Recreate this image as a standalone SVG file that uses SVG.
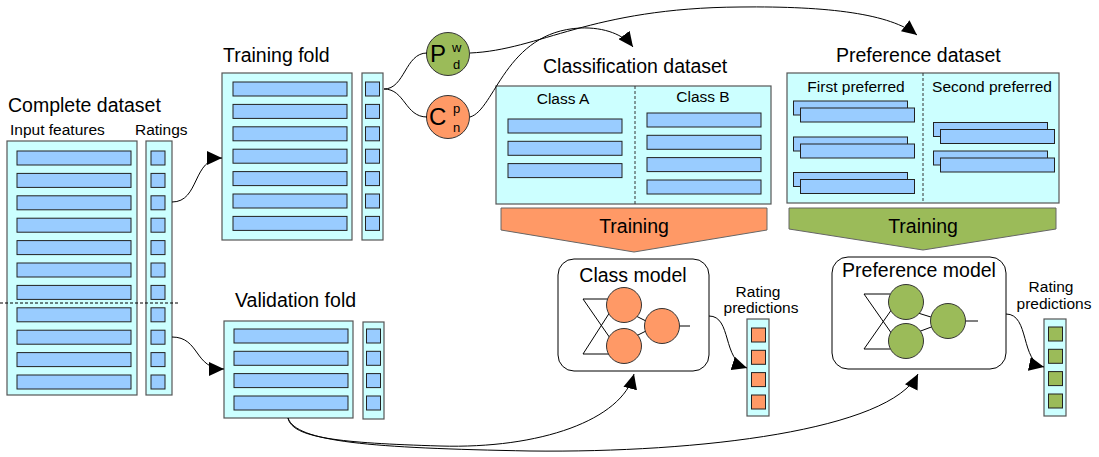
<svg xmlns="http://www.w3.org/2000/svg" width="1099" height="457" viewBox="0 0 1099 457">
<defs>
<style>
text{font-family:"Liberation Sans",Arial,sans-serif;fill:#000}
.h{font-size:19.5px}
.s{font-size:15.5px}
.box{fill:#ccffff;stroke:#555;stroke-width:1.2}
.row{fill:#99ccff;stroke:#222;stroke-width:1}
.sq{fill:#99ccff;stroke:#222;stroke-width:1}
.osq{fill:#ff9966;stroke:#222;stroke-width:1}
.gsq{fill:#9bbb59;stroke:#222;stroke-width:1}
.con{fill:none;stroke:#000;stroke-width:1}
.arr{fill:none;stroke:#000;stroke-width:1;marker-end:url(#ah)}
.orc{fill:#ff9966;stroke:#333;stroke-width:1}
.grc{fill:#9bbb59;stroke:#333;stroke-width:1}
.model{fill:#fff;stroke:#000;stroke-width:1}
.nl{fill:none;stroke:#000;stroke-width:1}
</style>
<marker id="ah" markerUnits="userSpaceOnUse" markerWidth="16" markerHeight="14" refX="15" refY="7" orient="auto">
<path d="M0,0 L15,7 L0,14 Z" fill="#000"/>
</marker>
<rect id="r114" width="114" height="14" class="row"/>
<rect id="sq" width="14" height="14" class="sq"/>
</defs>

<g id="complete-dataset">
<text class="h" x="8" y="112">Complete dataset</text>
<text class="s" x="10" y="135">Input features</text>
<text class="s" x="135" y="135">Ratings</text>
<rect class="box" x="7" y="141" width="130" height="254"/>
<rect class="box" x="146" y="141" width="26" height="254"/>
<use href="#r114" x="17" y="151"/><use href="#r114" x="17" y="173.4"/><use href="#r114" x="17" y="195.8"/><use href="#r114" x="17" y="218.2"/><use href="#r114" x="17" y="240.6"/><use href="#r114" x="17" y="263"/><use href="#r114" x="17" y="285.4"/><use href="#r114" x="17" y="307.8"/><use href="#r114" x="17" y="330.2"/><use href="#r114" x="17" y="352.6"/><use href="#r114" x="17" y="375"/>
<use href="#sq" x="151" y="151"/><use href="#sq" x="151" y="173.4"/><use href="#sq" x="151" y="195.8"/><use href="#sq" x="151" y="218.2"/><use href="#sq" x="151" y="240.6"/><use href="#sq" x="151" y="263"/><use href="#sq" x="151" y="285.4"/><use href="#sq" x="151" y="307.8"/><use href="#sq" x="151" y="330.2"/><use href="#sq" x="151" y="352.6"/><use href="#sq" x="151" y="375"/>
<line x1="0" y1="303" x2="180" y2="303" stroke="#000" stroke-width="1" stroke-dasharray="3,2"/>
</g>

<g id="training-fold">
<text class="h" x="223" y="62">Training fold</text>
<rect class="box" x="222" y="73" width="130" height="167"/>
<rect class="box" x="362" y="73" width="21" height="167"/>
<use href="#r114" x="233" y="82"/><use href="#r114" x="233" y="104.4"/><use href="#r114" x="233" y="126.8"/><use href="#r114" x="233" y="149.2"/><use href="#r114" x="233" y="171.6"/><use href="#r114" x="233" y="194"/><use href="#r114" x="233" y="216.4"/>
<use href="#sq" x="365.5" y="82"/><use href="#sq" x="365.5" y="104.4"/><use href="#sq" x="365.5" y="126.8"/><use href="#sq" x="365.5" y="149.2"/><use href="#sq" x="365.5" y="171.6"/><use href="#sq" x="365.5" y="194"/><use href="#sq" x="365.5" y="216.4"/>
</g>

<g id="validation-fold">
<text class="h" x="235" y="307">Validation fold</text>
<rect class="box" x="224" y="321" width="129" height="97"/>
<rect class="box" x="363" y="322" width="21" height="97"/>
<use href="#r114" x="234" y="329"/><use href="#r114" x="234" y="351.3"/><use href="#r114" x="234" y="373.6"/><use href="#r114" x="234" y="396"/>
<use href="#sq" x="366.5" y="329"/><use href="#sq" x="366.5" y="351.3"/><use href="#sq" x="366.5" y="373.6"/><use href="#sq" x="366.5" y="396"/>
</g>

<g id="metric-p">
<circle class="grc" cx="448" cy="54" r="21.5"/>
<text x="430" y="62" font-size="24">P</text>
<text x="452" y="52" font-size="13">w</text>
<text x="453" y="69" font-size="13">d</text>
</g>

<g id="metric-c">
<circle class="orc" cx="448" cy="117" r="21.5"/>
<text x="429" y="125" font-size="24">C</text>
<text x="453" y="113" font-size="13">p</text>
<text x="453" y="132" font-size="13">n</text>
</g>

<g id="classification-dataset">
<text class="h" x="543" y="73">Classification dataset</text>
<rect class="box" x="496" y="86" width="275" height="118"/>
<line x1="635" y1="86" x2="635" y2="204" stroke="#333" stroke-width="1" stroke-dasharray="3,2"/>
<text class="s" x="563" y="104" text-anchor="middle">Class A</text>
<text class="s" x="703" y="102" text-anchor="middle">Class B</text>
<use href="#r114" x="508" y="119"/><use href="#r114" x="508" y="141.3"/><use href="#r114" x="508" y="163.6"/>
<use href="#r114" x="647" y="113"/><use href="#r114" x="647" y="135.3"/><use href="#r114" x="647" y="157.6"/><use href="#r114" x="647" y="180"/>
</g>

<g id="preference-dataset">
<text class="h" x="836" y="62">Preference dataset</text>
<rect class="box" x="787" y="73" width="272" height="130"/>
<line x1="923" y1="73" x2="923" y2="203" stroke="#333" stroke-width="1" stroke-dasharray="3,2"/>
<text class="s" x="856" y="92" text-anchor="middle">First preferred</text>
<text class="s" x="992" y="92" text-anchor="middle">Second preferred</text>
<use href="#r114" x="793.5" y="101"/><use href="#r114" x="800.5" y="108"/>
<use href="#r114" x="793.5" y="137"/><use href="#r114" x="800.5" y="144"/>
<use href="#r114" x="793.5" y="172.5"/><use href="#r114" x="800.5" y="179.5"/>
<use href="#r114" x="933.5" y="122.5"/><use href="#r114" x="940.5" y="129.5"/>
<use href="#r114" x="933.5" y="151"/><use href="#r114" x="940.5" y="158"/>
</g>

<g id="training-class">
<polygon points="501,208 767,208 767,230 634,252 501,230" fill="#ff9966" stroke="#666" stroke-width="1"/>
<text class="h" x="634" y="233" text-anchor="middle">Training</text>
</g>

<g id="training-pref">
<polygon points="789,208 1056,208 1056,229 923,250 789,229" fill="#9bbb59" stroke="#666" stroke-width="1"/>
<text class="h" x="923" y="233" text-anchor="middle">Training</text>
</g>

<g id="class-model">
<rect class="model" x="558" y="259" width="151" height="112" rx="16"/>
<text class="h" x="633" y="282" text-anchor="middle">Class model</text>
<path class="nl" d="M583,299 H610 M583,299 L610,338 M583,354 H610 M583,354 L610,312 M636,316 L648,322 M636,336 L648,330 M680,326 H690"/>
<circle class="orc" cx="624" cy="305" r="17.5"/>
<circle class="orc" cx="624" cy="346" r="17.5"/>
<circle class="orc" cx="662" cy="326" r="17.5"/>
</g>

<g id="class-predictions">
<text class="s" x="758" y="297" text-anchor="middle">Rating</text>
<text class="s" x="761" y="313" text-anchor="middle">predictions</text>
<rect class="box" x="747" y="319" width="22" height="97"/>
<rect class="osq" x="751.5" y="328" width="14" height="14"/><rect class="osq" x="751.5" y="350.3" width="14" height="14"/><rect class="osq" x="751.5" y="372.6" width="14" height="14"/><rect class="osq" x="751.5" y="395" width="14" height="14"/>
</g>

<g id="preference-model">
<rect class="model" x="832" y="257" width="174" height="112" rx="16"/>
<text class="h" x="919" y="277" text-anchor="middle">Preference model</text>
<path class="nl" d="M864,294 H890 M864,294 L892,334 M864,349 H890 M864,349 L892,309 M918,313 L934,318 M918,332 L934,326 M966,321 H978"/>
<circle class="grc" cx="906" cy="302" r="17.5"/>
<circle class="grc" cx="906" cy="341" r="17.5"/>
<circle class="grc" cx="948" cy="321" r="17.5"/>
</g>

<g id="pref-predictions">
<text class="s" x="1051" y="292" text-anchor="middle">Rating</text>
<text class="s" x="1054" y="309" text-anchor="middle">predictions</text>
<rect class="box" x="1044" y="319" width="22" height="97"/>
<rect class="gsq" x="1048.5" y="327" width="14" height="14"/><rect class="gsq" x="1048.5" y="349.3" width="14" height="14"/><rect class="gsq" x="1048.5" y="371.6" width="14" height="14"/><rect class="gsq" x="1048.5" y="394" width="14" height="14"/>
</g>

<g id="connectors">
<path class="arr" d="M172,202 C200,202 192,158 222,158"/>
<path class="arr" d="M172,337 C200,337 194,369 224,369"/>
<path class="con" d="M384,89 C405,89 405,53 427,53"/>
<path class="con" d="M384,89 C405,89 405,117 427,117"/>
<path class="arr" d="M470,53 C540,50 590,8 740,7 C830,6 890,14 917,35"/>
<path class="arr" d="M470,117 C495,110 505,32 580,28 C605,27 624,35 633,47"/>
<path class="arr" d="M288,418 C292,438 340,443 440,446 C540,449 622,420 634,374"/>
<path class="arr" d="M288,418 C296,442 370,448 530,451 C700,453 890,430 918,374"/>
<path class="arr" d="M709,316 C732,316 722,360 747,368"/>
<path class="arr" d="M1006,314 C1030,314 1020,362 1044,367"/>
</g>
</svg>
